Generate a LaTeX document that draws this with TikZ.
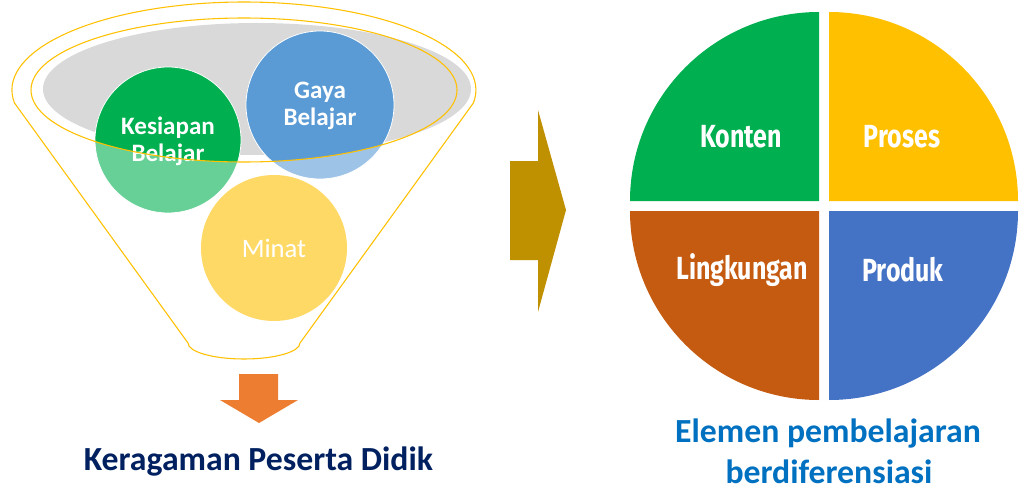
\documentclass[tikz,border=0pt]{standalone}
\usepackage{fontspec}
\setmainfont{Carlito}
\newfontfamily\condfont[FakeStretch=0.78]{Fira Sans}
\definecolor{fgreen}{HTML}{00B050}
\definecolor{fblue}{HTML}{5B9BD5}
\definecolor{fgold}{HTML}{FFC000}
\definecolor{fgrey}{HTML}{D9D9D9}
\definecolor{forange}{HTML}{ED7D31}
\definecolor{folive}{HTML}{BF9000}
\definecolor{fnavy}{HTML}{002060}
\definecolor{fbluet}{HTML}{0070C0}
\definecolor{pgreen}{HTML}{00B050}
\definecolor{pyellow}{HTML}{FFC000}
\definecolor{pbrown}{HTML}{C55A11}
\definecolor{pblue}{HTML}{4472C4}
\begin{document}
\begin{tikzpicture}[x=0.75pt,y=-0.75pt,
  funnelline/.style={draw=fgold,line width=0.8pt},
  bubbletext/.style={text=white,align=center,font=\bfseries\fontsize{18.8}{20.5}\selectfont},
  pielabel/.style={text=white,font=\condfont\bfseries\fontsize{24}{28}\selectfont},
  caption/.style={font=\bfseries\fontsize{25.3}{30}\selectfont,anchor=base}]
\useasboundingbox (0,0) rectangle (1031,496);
% grey ellipse
\fill[fgrey] (257,89) ellipse [x radius=214, y radius=66];
% light circles
\fill[fgreen,opacity=0.6] (168,140) circle [radius=73];
\fill[fblue,opacity=0.6] (320,105) circle [radius=74];
\fill[fgold,opacity=0.6] (274,248) circle [radius=73];
% full-colour parts inside inner ellipse
\begin{scope}
  \clip (244,90) ellipse [x radius=213, y radius=72];
  \fill[fgreen] (168,140) circle [radius=73];
  \fill[fblue] (320,105) circle [radius=74];
\end{scope}
\draw[white,line width=0.6pt] (168,140) circle [radius=73];
\draw[white,line width=0.6pt] (320,105) circle [radius=74];
% texts in bubbles
\node[bubbletext] (kes) at (168,141) {Kesiapan\\Belajar};
\node[bubbletext] (gaya) at (320,106) {Gaya\\Belajar};
\node[text=white,font=\fontsize{20}{24}\selectfont] (minat) at (274,248) {Minat};
% inner ellipse and funnel outline
\draw[funnelline] (244,90) ellipse [x radius=213, y radius=72];
\draw[funnelline] (14.5,103) arc [start angle=171.5, end angle=368.5, x radius=232, y radius=88]
  -- (300,343) arc [start angle=0, end angle=180, x radius=56, y radius=16] -- cycle;
% down arrow
\fill[forange] (239,374) -- (278,374) -- (278,400) -- (298,400) -- (259,423) -- (220,400) -- (239,400) -- cycle;
\node[caption,text=fnavy] (ker) at (258.5,470) {Keragaman Peserta Didik};
% right arrow
\fill[folive] (510,161) -- (538,161) -- (538,110) -- (566,210) -- (538,312) -- (538,260) -- (510,260) -- cycle;
% pie
\fill[pgreen] (819,201) -- (630,201) arc [start angle=180, end angle=270, radius=189] -- cycle;
\fill[pyellow] (829,201) -- (829,12) arc [start angle=270, end angle=360, radius=189] -- cycle;
\fill[pblue] (829,211) -- (1018,211) arc [start angle=0, end angle=90, radius=189] -- cycle;
\fill[pbrown] (819,211) -- (819,400) arc [start angle=90, end angle=180, radius=189] -- cycle;
\node[pielabel] (konten) at (741,137) {Konten};
\node[pielabel] (proses) at (902,137) {Proses};
\node[pielabel] (lingk) at (742,270) {Lingkungan};
\node[pielabel] (produk) at (903,270) {Produk};
\node[caption,text=fbluet] (el1) at (828,442) {Elemen pembelajaran};
\node[caption,text=fbluet] (el2) at (829,483) {berdiferensiasi};
\end{tikzpicture}
\end{document}
